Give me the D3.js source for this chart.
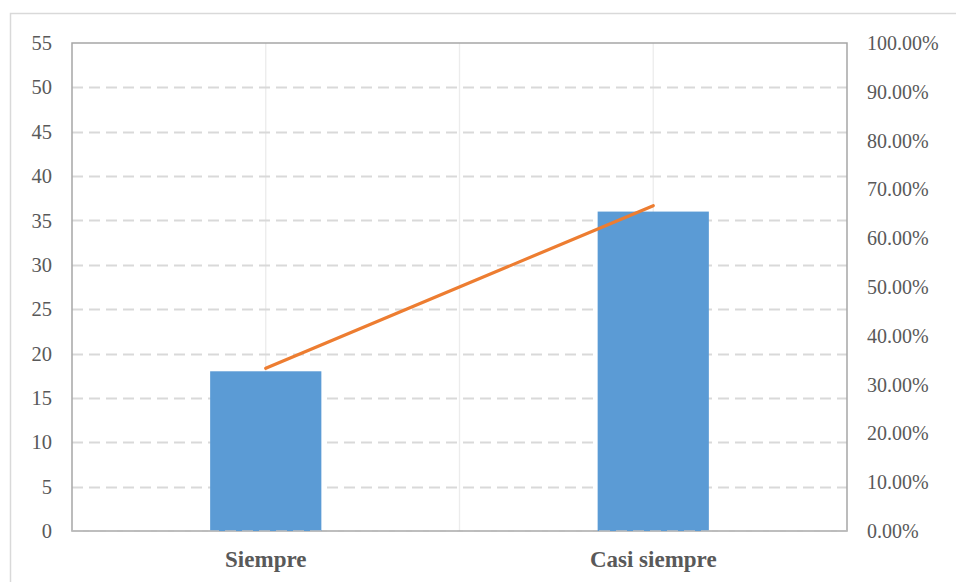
<!DOCTYPE html>
<html>
<head>
<meta charset="utf-8">
<script src="https://cdn.jsdelivr.net/npm/d3@7"></script>
<style>
  html, body { margin: 0; padding: 0; background: #fff; }
  svg { display: block; }
  svg text { font-family: "Liberation Serif", "Times New Roman", Tinos, "DejaVu Serif", serif !important; fill: #595959; }
</style>
</head>
<body>
<svg id="chart" width="956" height="582"></svg>
<script>
// Frequencies per answer and their share of the total
const categories = ["Siempre", "Casi siempre"];
const counts = [18, 36];
const percents = [0.3333, 0.6667];
const leftTicks = [0, 5, 10, 15, 20, 25, 30, 35, 40, 45, 50, 55];
const rightTicks = [0, 0.1, 0.2, 0.3, 0.4, 0.5, 0.6, 0.7, 0.8, 0.9, 1.0];

const svg = d3.select("#chart");
const plot = { left: 72, right: 847, top: 43, bottom: 531 };
const serif = '"Liberation Serif", "Times New Roman", serif';

// Chart area frame
svg.append("rect")
  .attr("x", 10.5).attr("y", 13.5)
  .attr("width", 960).attr("height", 600)
  .attr("fill", "#fff").attr("stroke", "#d9d9d9").attr("stroke-width", 1.5);

const x = d3.scaleBand().domain(categories)
  .range([plot.left, plot.right]).paddingInner(0).paddingOuter(0);
const barWidth = x.bandwidth() * 0.287;
const y = d3.scaleLinear().domain([0, 55]).range([plot.bottom, plot.top]);
const y2 = d3.scaleLinear().domain([0, 1]).range([plot.bottom, plot.top]);
const cx = c => x(c) + x.bandwidth() / 2;

// Vertical grid: category centres and the boundary between them
const vLines = categories.map(cx).concat([x(categories[1])]);
svg.append("g").selectAll("line").data(vLines).join("line")
  .attr("x1", d => d).attr("x2", d => d)
  .attr("y1", plot.top).attr("y2", plot.bottom)
  .attr("stroke", "#ececec").attr("stroke-width", 1.3);

// Horizontal dashed grid
svg.append("g").selectAll("line").data(leftTicks.filter(t => t > 0 && t < 55)).join("line")
  .attr("x1", plot.left).attr("x2", plot.right)
  .attr("y1", d => Math.round(y(d)) + 0.5).attr("y2", d => Math.round(y(d)) + 0.5)
  .attr("stroke", "#d9d9d9").attr("stroke-width", 1.8)
  .attr("stroke-dasharray", "11,6");

// Plot area border
svg.append("rect")
  .attr("x", plot.left).attr("y", plot.top)
  .attr("width", plot.right - plot.left).attr("height", plot.bottom - plot.top)
  .attr("fill", "none").attr("stroke", "#a6a6a6").attr("stroke-width", 1.5);

// Bars
svg.append("g").selectAll("rect").data(counts).join("rect")
  .attr("x", (d, i) => cx(categories[i]) - barWidth / 2)
  .attr("width", barWidth)
  .attr("y", d => y(d))
  .attr("height", d => y(0) - y(d))
  .attr("fill", "#5b9bd5");

// Zero line, dashed over bars
svg.append("line")
  .attr("x1", plot.left).attr("x2", plot.right)
  .attr("y1", y(0)).attr("y2", y(0))
  .attr("stroke", "#bfbfbf").attr("stroke-width", 1.5)
  .attr("stroke-dasharray", "11,6");

// Percentage line
const line = d3.line()
  .x((d, i) => cx(categories[i]))
  .y(d => y2(d));
svg.append("path").datum(percents)
  .attr("d", line)
  .attr("fill", "none").attr("stroke", "#ed7d31")
  .attr("stroke-width", 3.2).attr("stroke-linecap", "round");

// Left axis labels
const leftAxis = d3.axisLeft(y).tickValues(leftTicks).tickSize(0).tickPadding(20);
const gl = svg.append("g").attr("transform", `translate(${plot.left},0)`).call(leftAxis)
  .attr("font-family", serif);
gl.select(".domain").remove();
gl.selectAll("text").style("font-size", "20.5px").style("font-family", serif);

// Right axis labels
const rightAxis = d3.axisRight(y2).tickValues(rightTicks).tickSize(0).tickPadding(20)
  .tickFormat(d => (d * 100).toFixed(2) + "%");
const gr = svg.append("g").attr("transform", `translate(${plot.right},0)`).call(rightAxis)
  .attr("font-family", serif);
gr.select(".domain").remove();
gr.selectAll("text").style("font-size", "20px").style("font-family", serif);

// Category labels
const bottomAxis = d3.axisBottom(x).tickSize(0);
const gb = svg.append("g").attr("transform", `translate(0,${plot.bottom})`).call(bottomAxis)
  .attr("font-family", serif);
gb.select(".domain").remove();
gb.selectAll("text").attr("y", 36).attr("dy", 0)
  .style("font-size", "23px").style("font-weight", "bold").style("font-family", serif);
</script>
</body>
</html>
